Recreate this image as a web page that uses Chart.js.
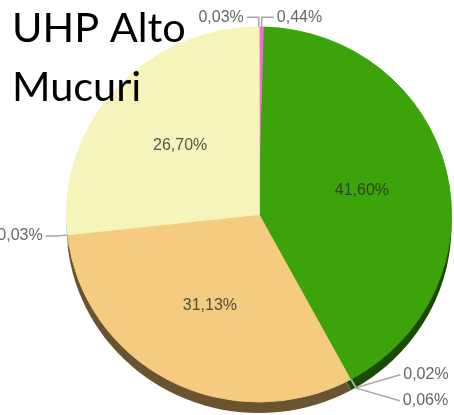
<!DOCTYPE html>
<html>
<head>
<meta charset="utf-8">
<script src="https://cdn.jsdelivr.net/npm/chart.js@4.4.1/dist/chart.umd.min.js"></script>
<style>
  html, body { margin: 0; padding: 0; background: #ffffff; }
  #wrap { position: relative; width: 454px; height: 415px; }
</style>
</head>
<body>
<div id="wrap"><canvas id="c" width="454" height="415"></canvas></div>
<script>
// ---- data ----
const titleLines = ['UHP Alto', 'Mucuri'];
const categories = ['Fatia 1', 'Fatia 2', 'Fatia 3', 'Fatia 4', 'Fatia 5', 'Fatia 6', 'Fatia 7', 'Fatia 8'];
const values = [0.44, 41.60, 0.02, 0.06, 31.13, 0.03, 26.70, 0.03];
const faceColors = ['#ee6ecb', '#3da30b', '#3da30b', '#3da30b', '#f4cb7f', '#f4cb7f', '#f5f4bb', '#f5f4bb'];
const sideColors = ['#8a3a74', '#1b4a04', '#1b4a04', '#1b4a04', '#6a5331', '#6a5331', '#8d8b5e', '#8d8b5e'];

const fmt = v => v.toFixed(2).replace('.', ',') + '%';

const Y_SCALE = 0.974;
const DEPTH = 11;

function withTilt(ctx, cx, cy, fn) {
  ctx.save();
  ctx.translate(cx, cy);
  ctx.scale(1, Y_SCALE);
  ctx.translate(-cx, -cy);
  fn();
  ctx.restore();
}

const pie3d = {
  id: 'pie3d',
  beforeDatasetsDraw(chart) {
    const ctx = chart.ctx;
    const meta = chart.getDatasetMeta(0);
    // side (extrusion)
    ctx.save();
    ctx.translate(0, DEPTH);
    meta.data.forEach((arc, i) => {
      const p = arc.getProps(['x', 'y', 'startAngle', 'endAngle', 'outerRadius'], true);
      withTilt(ctx, p.x, p.y, () => {
        ctx.beginPath();
        ctx.moveTo(p.x, p.y);
        ctx.arc(p.x, p.y, p.outerRadius, p.startAngle, p.endAngle);
        ctx.closePath();
        ctx.fillStyle = sideColors[i];
        ctx.fill();
      });
    });
    ctx.restore();
    const a0 = meta.data[0];
    ctx.save();
    ctx.translate(a0.x, a0.y);
    ctx.scale(1, Y_SCALE);
    ctx.translate(-a0.x, -a0.y);
  },
  afterDatasetsDraw(chart) {
    const ctx = chart.ctx;
    ctx.restore();
    const meta = chart.getDatasetMeta(0);
    const outside = [];
    meta.data.forEach((arc, i) => {
      const p = arc.getProps(['x', 'y', 'startAngle', 'endAngle', 'outerRadius'], true);
      const mid = (p.startAngle + p.endAngle) / 2;
      const dx = Math.cos(mid), dy = Math.sin(mid);
      const R = p.outerRadius;
      if (values[i] >= 5) {
        const r = R * 0.55;
        ctx.font = '16px "Liberation Sans", Arial, sans-serif';
        ctx.fillStyle = 'rgba(40,40,40,0.78)';
        ctx.textAlign = 'center';
        ctx.textBaseline = 'middle';
        ctx.fillText(fmt(values[i]), p.x + dx * r, p.y + dy * r * Y_SCALE);
      } else {
        const side = dx >= 0 ? 1 : -1;
        outside.push({
          i, side,
          ex: p.x + dx * R, ey: p.y + dy * R * Y_SCALE,
          bx: p.x + dx * (R + 10), by: p.y + dy * (R + 10) * Y_SCALE,
          y: p.y + dy * (R + 10) * Y_SCALE
        });
      }
    });
    const gap = 26;
    [1, -1].forEach(side => {
      const items = outside.filter(o => o.side === side).sort((a, b) => a.y - b.y);
      let clusters = items.map(it => ({ items: [it], top: it.y }));
      let merged = true;
      while (merged) {
        merged = false;
        for (let k = 0; k < clusters.length - 1; k++) {
          const a = clusters[k], b = clusters[k + 1];
          if (a.top + a.items.length * gap > b.top) {
            const all = a.items.concat(b.items);
            const mean = all.reduce((s, it) => s + it.y, 0) / all.length;
            clusters.splice(k, 2, { items: all, top: mean - (all.length - 1) * gap / 2 });
            merged = true;
            break;
          }
        }
      }
      clusters.forEach(c => c.items.forEach((it, k) => { it.ly = c.top + k * gap; }));
    });
    outside.forEach(o => {
      const lx = o.bx + o.side * (12 + 2.5 * Math.abs(o.ly - o.by));
      ctx.beginPath();
      ctx.moveTo(o.ex, o.ey);
      ctx.lineTo(o.bx, o.by);
      ctx.lineTo(lx, o.ly);
      ctx.strokeStyle = '#a6a6a6';
      ctx.lineWidth = 1.5;
      ctx.stroke();
      ctx.font = '16px "Liberation Sans", Arial, sans-serif';
      ctx.fillStyle = '#666666';
      ctx.textBaseline = 'middle';
      ctx.textAlign = o.side > 0 ? 'left' : 'right';
      ctx.fillText(fmt(values[o.i]), lx + o.side * 3, o.ly);
    });
  },
  afterDraw(chart) {
    const ctx = chart.ctx;
    ctx.save();
    ctx.font = '41.5px Lato, "Open Sans", sans-serif';
    ctx.fillStyle = '#000000';
    ctx.textAlign = 'left';
    ctx.textBaseline = 'alphabetic';
    ctx.fillText(titleLines[0], 12, 42);
    ctx.fillText(titleLines[1], 12, 101);
    ctx.restore();
  }
};

new Chart(document.getElementById('c'), {
  type: 'pie',
  data: {
    labels: categories,
    datasets: [{
      data: values,
      backgroundColor: faceColors,
      borderColor: faceColors,
      borderWidth: 1,
      hoverOffset: 0
    }]
  },
  options: {
    responsive: false,
    animation: false,
    events: [],
    layout: { padding: { left: 66, right: 2, top: 21, bottom: 7 } },
    plugins: {
      legend: { display: false },
      title: { display: false },
      tooltip: { enabled: false }
    }
  },
  plugins: [pie3d]
});
</script>
</body>
</html>
